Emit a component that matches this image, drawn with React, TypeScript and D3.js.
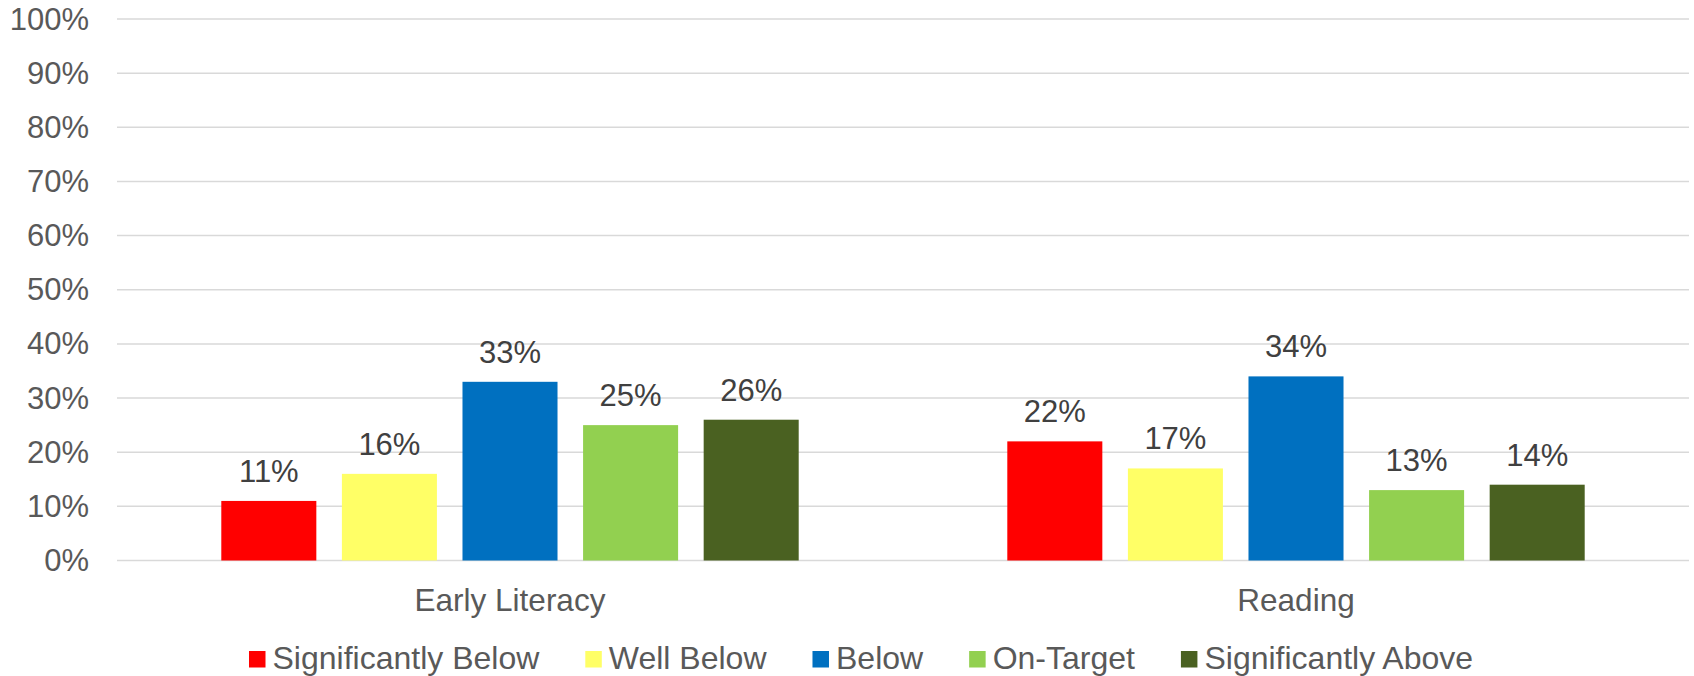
import React from "react";
import * as d3 from "d3";

const categories = ["Early Literacy", "Reading"];
const seriesNames = ["Significantly Below", "Well Below", "Below", "On-Target", "Significantly Above"];
const seriesColors = ["#FF0000", "#FFFF66", "#0070C0", "#92D050", "#4A6121"];
const earlyLiteracy = [0.11, 0.16, 0.33, 0.25, 0.26];
const reading = [0.22, 0.17, 0.34, 0.13, 0.14];
const values = [earlyLiteracy, reading];
const yTicks = [0, 0.1, 0.2, 0.3, 0.4, 0.5, 0.6, 0.7, 0.8, 0.9, 1.0];

const W = 1694;
const H = 676;
const FONT = "'Liberation Sans', Arial, sans-serif";

function measure(text: string, size: number) {
  const c = document.createElement("canvas").getContext("2d")!;
  c.font = `${size}px ${FONT}`;
  return c.measureText(text).width;
}

export default function App() {
  const left = 117;
  const right = 1689;
  const top = 19;
  const bottom = 560.5;

  const y = d3.scaleLinear().domain([0, 1]).range([bottom, top]);
  const x0 = d3.scaleBand<string>().domain(categories).range([left, right]).padding(0);
  const bw = x0.bandwidth();
  const x1 = d3
    .scaleBand<string>()
    .domain(seriesNames)
    .range([0.1327 * bw, 0.8673 * bw])
    .paddingInner(0.212);
  const fmt = d3.format(".0%");

  const legendFont = 32;
  const sq = 16.5;
  let lx = 249;
  const legendItems = seriesNames.map((s, i) => {
    const item = { s, color: seriesColors[i], x: lx };
    lx += sq + 7 + measure(s, legendFont) + 46;
    return item;
  });

  return (
    <svg
      width={W}
      height={H}
      style={{ position: "absolute", left: 0, top: 0, background: "#fff" }}
      fontFamily={FONT}
    >
      {yTicks.map((t) => (
        <g key={t}>
          <line x1={left} x2={right} y1={y(t)} y2={y(t)} stroke="#D9D9D9" strokeWidth={1.5} />
          <text x={89} y={y(t) + 10.5} textAnchor="end" fontSize={31} fill="#595959">
            {fmt(t)}
          </text>
        </g>
      ))}
      {categories.map((c, ci) => (
        <g key={c} transform={`translate(${x0(c)},0)`}>
          {seriesNames.map((s, si) => {
            const v = values[ci][si];
            const bx = x1(s)!;
            return (
              <g key={s}>
                <rect x={bx} y={y(v)} width={x1.bandwidth()} height={bottom - y(v)} fill={seriesColors[si]} />
                <text
                  x={bx + x1.bandwidth() / 2}
                  y={y(v) - 19}
                  textAnchor="middle"
                  fontSize={31}
                  fill="#404040"
                >
                  {fmt(v)}
                </text>
              </g>
            );
          })}
          <text x={bw / 2} y={611} textAnchor="middle" fontSize={31.5} fill="#595959">
            {c}
          </text>
        </g>
      ))}
      {legendItems.map((it) => (
        <g key={it.s}>
          <rect x={it.x} y={651} width={sq} height={sq} fill={it.color} />
          <text x={it.x + sq + 7} y={669} fontSize={legendFont} fill="#595959">
            {it.s}
          </text>
        </g>
      ))}
    </svg>
  );
}
